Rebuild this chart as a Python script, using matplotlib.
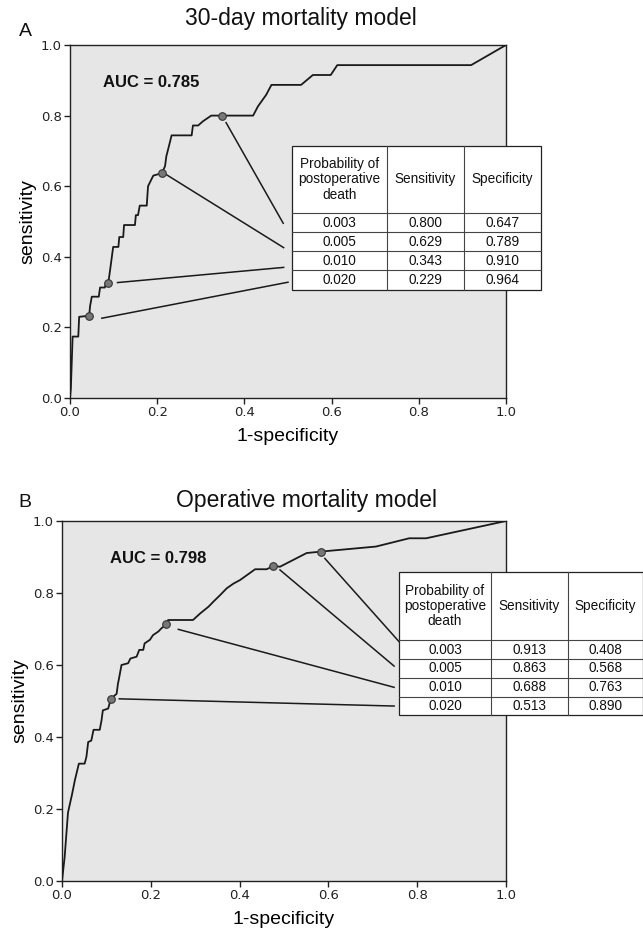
import matplotlib
matplotlib.use("Agg")
import matplotlib.pyplot as plt
from matplotlib.patches import Rectangle

plt.rcParams['font.family'] = ['Liberation Sans', 'DejaVu Sans']

# ---------------- data ----------------
titles = ["30-day mortality model", "Operative mortality model"]
panel_letters = ["A", "B"]
auc_labels = ["AUC = 0.785", "AUC = 0.798"]

a_fpr = [0, 0.002, 0.006, 0.019, 0.021, 0.044, 0.046, 0.050, 0.066, 0.069, 0.080, 0.082,
         0.088, 0.093, 0.099, 0.111, 0.113, 0.122, 0.124, 0.149, 0.151, 0.156, 0.160,
         0.176, 0.179, 0.187, 0.191, 0.211, 0.218, 0.221, 0.227, 0.233, 0.279, 0.282,
         0.294, 0.305, 0.324, 0.349, 0.420, 0.431, 0.450, 0.462, 0.530, 0.557, 0.598,
         0.613, 0.920, 1.0]
a_tpr = [0, 0.028, 0.174, 0.174, 0.230, 0.233, 0.260, 0.287, 0.287, 0.313, 0.313, 0.325,
         0.327, 0.372, 0.428, 0.428, 0.456, 0.456, 0.490, 0.490, 0.518, 0.518, 0.545,
         0.545, 0.600, 0.620, 0.630, 0.637, 0.657, 0.685, 0.714, 0.744, 0.744, 0.772,
         0.772, 0.784, 0.800, 0.800, 0.800, 0.826, 0.859, 0.887, 0.887, 0.915, 0.915,
         0.943, 0.943, 1.0]
a_mark_fpr = [0.044, 0.088, 0.211, 0.349]
a_mark_tpr = [0.233, 0.327, 0.637, 0.800]

b_fpr = [0, 0.006, 0.0135, 0.023, 0.029, 0.038, 0.051, 0.055, 0.059, 0.066, 0.071, 0.085,
         0.089, 0.092, 0.104, 0.110, 0.123, 0.126, 0.128, 0.134, 0.149, 0.154, 0.168,
         0.174, 0.183, 0.186, 0.198, 0.205, 0.217, 0.224, 0.235, 0.239, 0.295, 0.311,
         0.330, 0.341, 0.356, 0.371, 0.386, 0.401, 0.435, 0.461, 0.476, 0.491, 0.521,
         0.551, 0.583, 0.707, 0.782, 0.820, 1.0]
b_tpr = [0, 0.067, 0.190, 0.243, 0.280, 0.326, 0.326, 0.345, 0.386, 0.390, 0.420, 0.420,
         0.446, 0.474, 0.479, 0.506, 0.520, 0.548, 0.560, 0.600, 0.605, 0.618, 0.623,
         0.642, 0.642, 0.660, 0.670, 0.683, 0.693, 0.702, 0.713, 0.725, 0.725, 0.743,
         0.762, 0.776, 0.794, 0.813, 0.826, 0.836, 0.866, 0.866, 0.875, 0.873, 0.892,
         0.911, 0.915, 0.929, 0.952, 0.952, 1.0]
b_mark_fpr = [0.110, 0.235, 0.476, 0.583]
b_mark_tpr = [0.506, 0.713, 0.875, 0.915]

table_header = ["Probability of\npostoperative\ndeath", "Sensitivity", "Specificity"]
a_prob = ["0.003", "0.005", "0.010", "0.020"]
a_sens = ["0.800", "0.629", "0.343", "0.229"]
a_spec = ["0.647", "0.789", "0.910", "0.964"]
b_prob = ["0.003", "0.005", "0.010", "0.020"]
b_sens = ["0.913", "0.863", "0.688", "0.513"]
b_spec = ["0.408", "0.568", "0.763", "0.890"]

ticks = [0.0, 0.2, 0.4, 0.6, 0.8, 1.0]
tick_labels = ["0.0", "0.2", "0.4", "0.6", "0.8", "1.0"]

# ---------------- layout ----------------
W, H = 643, 930
fig = plt.figure(figsize=(W / 100, H / 100), dpi=100)

def px_axes(l, r, t, b):
    return fig.add_axes([l / W, (H - b) / H, (r - l) / W, (b - t) / H])

ax_a = px_axes(70, 506, 45, 398)
ax_b = px_axes(62, 506, 521, 881)

panels = [
    dict(ax=ax_a, fpr=a_fpr, tpr=a_tpr, mfpr=a_mark_fpr, mtpr=a_mark_tpr,
         prob=a_prob, sens=a_sens, spec=a_spec,
         col_edges=[0.510, 0.726, 0.903, 1.080],
         row_edges=[0.714, 0.524, 0.470, 0.416, 0.363, 0.306],
         leader_start=[(0.073, 0.226), (0.109, 0.327), (0.222, 0.632), (0.358, 0.780)],
         leader_end=[(0.500, 0.328), (0.490, 0.370), (0.490, 0.426), (0.489, 0.495)],
         auc_pos=(0.076, 0.895), title_x=301, title_y=18, letter_xy=(25, 32)),
    dict(ax=ax_b, fpr=b_fpr, tpr=b_tpr, mfpr=b_mark_fpr, mtpr=b_mark_tpr,
         prob=b_prob, sens=b_sens, spec=b_spec,
         col_edges=[0.759, 0.966, 1.140, 1.309],
         row_edges=[0.858, 0.669, 0.617, 0.565, 0.512, 0.461],
         leader_start=[(0.129, 0.506), (0.262, 0.699), (0.491, 0.864), (0.592, 0.896)],
         leader_end=[(0.748, 0.486), (0.748, 0.538), (0.748, 0.597), (0.759, 0.665)],
         auc_pos=(0.108, 0.897), title_x=307, title_y=500, letter_xy=(25, 502)),
]

for i, p in enumerate(panels):
    ax = p['ax']
    ax.set_facecolor('#e6e6e6')
    ax.set_xlim(0, 1)
    ax.set_ylim(0, 1)
    for s in ax.spines.values():
        s.set_linewidth(1.0)
        s.set_color('#222222')
    ax.set_xticks(ticks)
    ax.set_xticklabels(tick_labels, family='DejaVu Sans')
    ax.set_yticks(ticks)
    ax.set_yticklabels(tick_labels, family='DejaVu Sans')
    ax.tick_params(direction='out', length=4, width=1, labelsize=9.5, colors='#222222', pad=2)
    ax.set_ylabel("sensitivity", fontsize=14, labelpad=3)
    ax.set_xlabel("1-specificity", fontsize=14, labelpad=6)

    ax.plot(p['fpr'], p['tpr'], color='#1a1a1a', lw=1.3, zorder=3)
    ax.scatter(p['mfpr'], p['mtpr'], s=30, color='#777777', edgecolor='#333333',
               linewidth=0.8, zorder=4)

    for (x0, y0), (x1, y1) in zip(p['leader_start'], p['leader_end']):
        ax.plot([x0, x1], [y0, y1], color='#1a1a1a', lw=1.1, zorder=3, clip_on=False)

    ax.text(p['auc_pos'][0], p['auc_pos'][1], auc_labels[i], fontsize=12,
            fontweight='bold', va='center', ha='left', color='#111111')

    # table
    ce = p['col_edges']
    re = p['row_edges']
    x0, x1 = ce[0], ce[-1]
    ax.add_patch(Rectangle((x0, re[-1]), x1 - x0, re[0] - re[-1], facecolor='white',
                           edgecolor='#222222', lw=0.9, clip_on=False, zorder=5))
    for c in ce[1:-1]:
        ax.plot([c, c], [re[-1], re[0]], color='#444444', lw=0.8, clip_on=False, zorder=6)
    for r in re[1:-1]:
        ax.plot([x0, x1], [r, r], color='#444444', lw=0.8, clip_on=False, zorder=6)
    for j, h in enumerate(table_header):
        cx = (ce[j] + ce[j + 1]) / 2
        cy = (re[0] + re[1]) / 2
        ax.text(cx, cy, h, ha='center', va='center', fontsize=9.8, linespacing=1.1,
                clip_on=False, zorder=7, color='#111111')
    cols = [p['prob'], p['sens'], p['spec']]
    for k in range(4):
        cy = (re[k + 1] + re[k + 2]) / 2
        for j in range(3):
            cx = (ce[j] + ce[j + 1]) / 2
            ax.text(cx, cy, cols[j][k], ha='center', va='center', fontsize=9.8,
                    clip_on=False, zorder=7, color='#111111')

    fig.text(p['title_x'] / W, 1 - p['title_y'] / H, titles[i], ha='center', va='center',
             fontsize=16.5, color='#111111')
    fig.text(p['letter_xy'][0] / W, 1 - p['letter_xy'][1] / H, panel_letters[i],
             ha='center', va='center', fontsize=14, color='#111111')

fig.savefig("out.png", dpi=100)
